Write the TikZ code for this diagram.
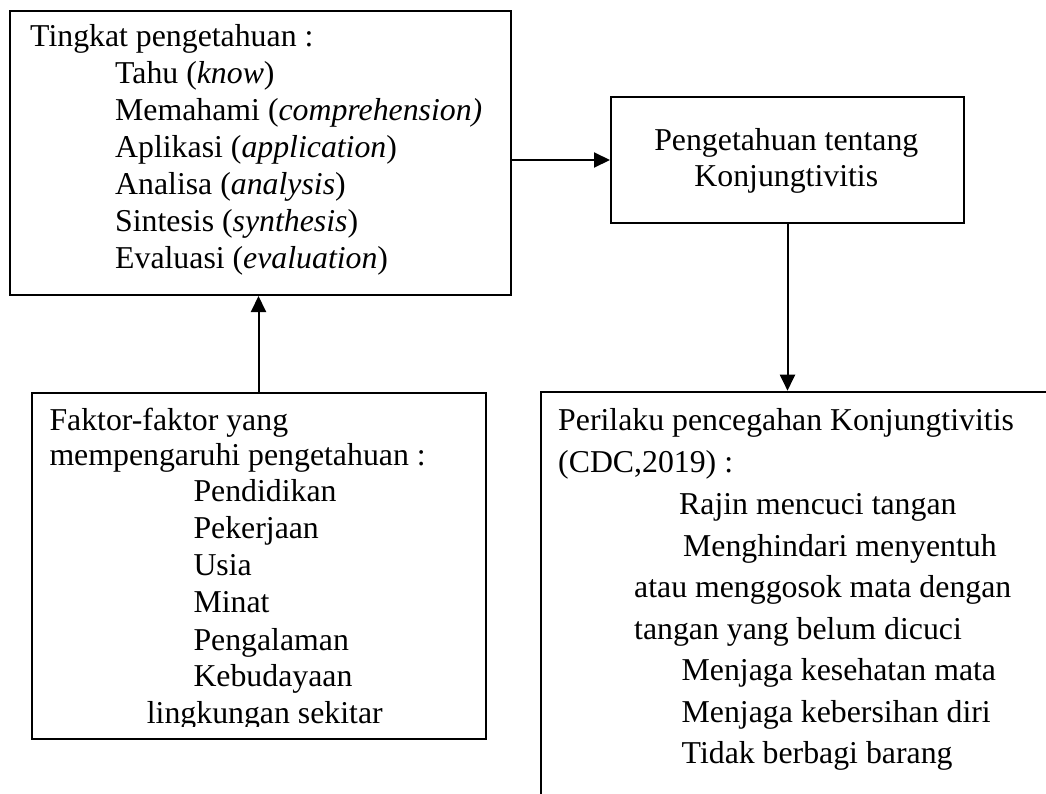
\documentclass[tikz,border=0pt]{standalone}
\usepackage{fontspec}
\setmainfont{Liberation Serif}
\usetikzlibrary{arrows.meta}
\tikzset{
  box/.style={draw=black, line width=2pt, rectangle, inner sep=0pt, anchor=north west},
  txt/.style={inner sep=0pt, anchor=base west},
  ctxt/.style={inner sep=0pt, anchor=base},
  arr/.style={line width=2pt, -{Triangle[length=16pt,width=15pt]}}
}
\begin{document}
\begin{tikzpicture}[x=1pt,y=-1pt,font=\fontsize{31.8}{36.8}\selectfont]
\clip (0,0) rectangle (1046,793);
\fill[white] (0,0) rectangle (1046,793);

% boxes
\node[box, minimum width=501pt, minimum height=284pt] (b1) at (9,10) {};
\node[box, minimum width=353pt, minimum height=126pt] (b2) at (610,96) {};
\node[box, minimum width=454pt, minimum height=346pt] (b4) at (30.5,392.3) {};
\node[box, minimum width=540pt, minimum height=440pt] (b3) at (540,390.7) {};

% box 1 text
\node[txt] (t10) at (30,46.7) {Tingkat pengetahuan :};
\node[txt] (t11) at (115,83.6) {Tahu (\textit{know})};
\node[txt] (t12) at (115,120.5) {Memahami (\textit{comprehension)}};
\node[txt] (t13) at (115,157.4) {Aplikasi (\textit{application})};
\node[txt] (t14) at (115,194.3) {Analisa (\textit{analysis})};
\node[txt] (t15) at (115,231.2) {Sintesis (\textit{synthesis})};
\node[txt] (t16) at (115,268.1) {Evaluasi (\textit{evaluation})};

% box 2 text
\node[ctxt] (t21) at (786.3,150) {Pengetahuan tentang};
\node[ctxt] (t22) at (786.3,186.7) {Konjungtivitis};

% box 3 text
\node[txt] (t30) at (558,430) {Perilaku pencegahan Konjungtivitis};
\node[txt] (t31) at (558,472) {(CDC,2019) :};
\node[txt] (t32) at (679,514) {Rajin mencuci tangan};
\node[txt] (t33) at (683,556) {Menghindari menyentuh};
\node[txt] (t34) at (634,597) {atau menggosok mata dengan};
\node[txt] (t35) at (634,639) {tangan yang belum dicuci};
\node[txt] (t36) at (681.5,680) {Menjaga kesehatan mata};
\node[txt] (t37) at (681.5,722) {Menjaga kebersihan diri};
\node[txt] (t38) at (681.5,763) {Tidak berbagi barang};

% box 4 text
\node[txt] (t40) at (49.3,430) {Faktor-faktor yang};
\node[txt] (t41) at (49.3,465) {mempengaruhi pengetahuan :};
\node[txt] (t42) at (193.3,501.7) {Pendidikan};
\node[txt] (t43) at (193.3,538.3) {Pekerjaan};
\node[txt] (t44) at (193.3,575) {Usia};
\node[txt] (t45) at (193.3,612.7) {Minat};
\node[txt] (t46) at (193.3,650) {Pengalaman};
\node[txt] (t47) at (193.3,686.7) {Kebudayaan};
\begin{scope}
\clip (0,0) rectangle (1046,726);
\node[txt] (t48) at (146.7,723) {lingkungan sekitar};
\end{scope}

% connectors
\draw[arr] (b1.east |- b2.west) -- (b2.west);
\draw[arr] (b2.south) -- (b2.south |- b3.north);
\draw[arr] (b4.north) -- (b4.north |- b1.south);
\end{tikzpicture}
\end{document}
